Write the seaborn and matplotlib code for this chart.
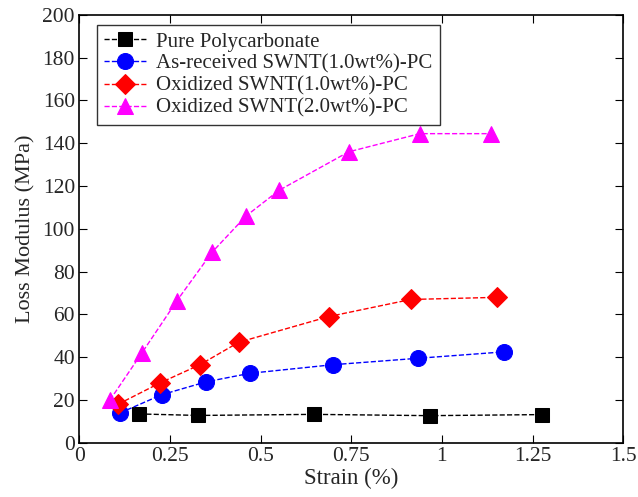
import pandas as pd
import seaborn as sns
import matplotlib.pyplot as plt

# values
pc_strain = [0.165, 0.328, 0.647, 0.966, 1.277]
pc_loss = [13.5, 12.8, 13.3, 12.7, 13.2]

asr_strain = [0.113, 0.228, 0.350, 0.471, 0.699, 0.933, 1.170]
asr_loss = [14.0, 22.5, 28.5, 32.5, 36.5, 39.5, 42.5]

ox1_strain = [0.107, 0.223, 0.333, 0.440, 0.688, 0.914, 1.151]
ox1_loss = [18.0, 28.0, 36.5, 47.0, 59.0, 67.0, 68.0]

ox2_strain = [0.085, 0.173, 0.270, 0.366, 0.460, 0.551, 0.743, 0.939, 1.134]
ox2_loss = [20.0, 42.0, 66.5, 89.0, 106.0, 118.0, 136.0, 144.5, 144.5]

labels = ["Pure Polycarbonate", "As-received SWNT(1.0wt%)-PC",
          "Oxidized SWNT(1.0wt%)-PC", "Oxidized SWNT(2.0wt%)-PC"]
xs = [pc_strain, asr_strain, ox1_strain, ox2_strain]
ys = [pc_loss, asr_loss, ox1_loss, ox2_loss]
colors = ["black", "blue", "red", "magenta"]
markers = ["s", "o", "D", "^"]
msizes = [10, 11.5, 10, 12]

sns.set_style("ticks")
plt.rcParams["font.family"] = ["Liberation Serif", "DejaVu Serif"]

fig = plt.figure(figsize=(6.38, 4.97), dpi=100)
ax = fig.add_axes([0.124, 0.109, 0.853, 0.861])

for x, y, lab, c, m, ms in zip(xs, ys, labels, colors, markers, msizes):
    df = pd.DataFrame({"Strain": x, "Loss": y})
    sns.lineplot(data=df, x="Strain", y="Loss", ax=ax, sort=False,
                 color=c, marker=m, markersize=ms, markeredgecolor=c,
                 linestyle="--", linewidth=1.0, label=lab)

ax.set_xlim(0, 1.5)
ax.set_ylim(0, 200)
ax.set_xticks([0, 0.25, 0.5, 0.75, 1, 1.25, 1.5])
ax.set_xticklabels(["0", "0.25", "0.5", "0.75", "1", "1.25", "1.5"])
ax.set_yticks(range(0, 201, 20))
ax.tick_params(direction="in", top=True, right=True, labelsize=15.5,
               length=6, width=0.8, color="black", pad=3)
for sp in ax.spines.values():
    sp.set_visible(True)
    sp.set_linewidth(1.2)
    sp.set_color("black")
ax.set_xlabel("Strain (%)", fontsize=16.5, labelpad=1)
ax.set_ylabel("Loss Modulus (MPa)", fontsize=16, labelpad=5)

leg = ax.legend(loc="upper left", bbox_to_anchor=(0.033, 0.977), fontsize=15,
                frameon=True, fancybox=False, edgecolor="black",
                handlelength=2.0, borderpad=0.35, labelspacing=0.12,
                handletextpad=0.5, borderaxespad=0)
leg.get_frame().set_linewidth(1.0)

fig.savefig("out.png", dpi=100)
